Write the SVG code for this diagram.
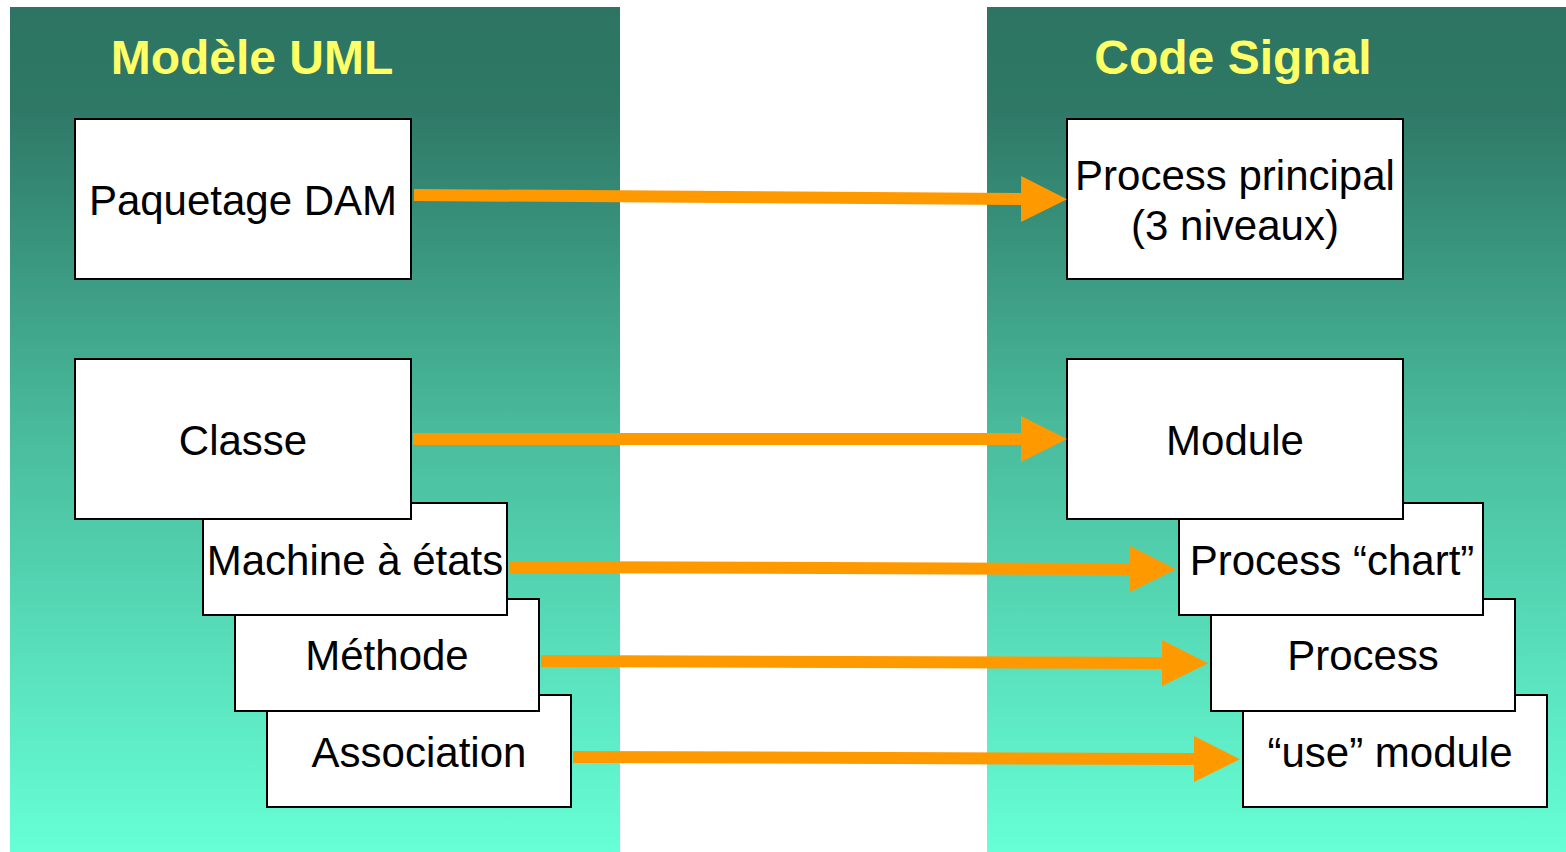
<svg xmlns="http://www.w3.org/2000/svg" width="1566" height="852" viewBox="0 0 1566 852">
<defs>
<linearGradient id="bg" x1="0" y1="0" x2="0" y2="1">
<stop offset="0" stop-color="#2d7562"/>
<stop offset="0.12" stop-color="#2e7866"/>
<stop offset="0.5" stop-color="#49bb9c"/>
<stop offset="1" stop-color="#66ffd6"/>
</linearGradient>
<marker id="ah" markerUnits="userSpaceOnUse" markerWidth="46" markerHeight="46" viewBox="0 0 46 46" refX="0" refY="23" orient="auto">
<path d="M0,0 L46,23 L0,46 Z" fill="#ff9900"/>
</marker>
</defs>
<style>
.panel{fill:url(#bg)}
.box{fill:#ffffff;stroke:#000000;stroke-width:2}
.t{font-family:"Liberation Sans",Arial,sans-serif;font-size:42px;fill:#000000;text-anchor:middle}
.title{font-family:"Liberation Sans",Arial,sans-serif;font-size:48px;font-weight:bold;fill:#ffff66;text-anchor:middle}
.arr{stroke:#ff9900;stroke-width:12;fill:none;marker-end:url(#ah)}
</style>
<rect width="1566" height="852" fill="#ffffff"/>
<rect class="panel" x="10" y="7" width="610" height="845"/>
<rect class="panel" x="987" y="7" width="579" height="845"/>
<text class="title" x="252" y="74">Modèle UML</text>
<text class="title" x="1233" y="74">Code Signal</text>

<g id="association"><rect class="box" x="267" y="695" width="304" height="112"/><text class="t" x="419" y="767">Association</text></g>
<g id="methode"><rect class="box" x="235" y="599" width="304" height="112"/><text class="t" x="387" y="670">Méthode</text></g>
<g id="machine"><rect class="box" x="203" y="503" width="304" height="112"/><text class="t" x="355" y="575">Machine à états</text></g>
<g id="classe"><rect class="box" x="75" y="359" width="336" height="160"/><text class="t" x="243" y="455">Classe</text></g>
<g id="paquetage"><rect class="box" x="75" y="119" width="336" height="160"/><text class="t" x="243" y="215">Paquetage DAM</text></g>

<g id="use-module"><rect class="box" x="1243" y="695" width="304" height="112"/><text class="t" x="1390" y="767">“use” module</text></g>
<g id="process"><rect class="box" x="1211" y="599" width="304" height="112"/><text class="t" x="1363" y="670">Process</text></g>
<g id="process-chart"><rect class="box" x="1179" y="503" width="304" height="112"/><text class="t" x="1332" y="575">Process “chart”</text></g>
<g id="module"><rect class="box" x="1067" y="359" width="336" height="160"/><text class="t" x="1235" y="455">Module</text></g>
<g id="process-principal"><rect class="box" x="1067" y="119" width="336" height="160"/><text class="t" x="1235" y="190">Process principal</text><text class="t" x="1235" y="240">(3 niveaux)</text></g>

<g id="connectors">
<line class="arr" x1="414" y1="195" x2="1021" y2="199"/>
<line class="arr" x1="413" y1="439" x2="1021" y2="439"/>
<line class="arr" x1="510" y1="567" x2="1130" y2="569"/>
<line class="arr" x1="541" y1="661" x2="1162" y2="663"/>
<line class="arr" x1="573" y1="757" x2="1194" y2="759"/>
</g>
</svg>
